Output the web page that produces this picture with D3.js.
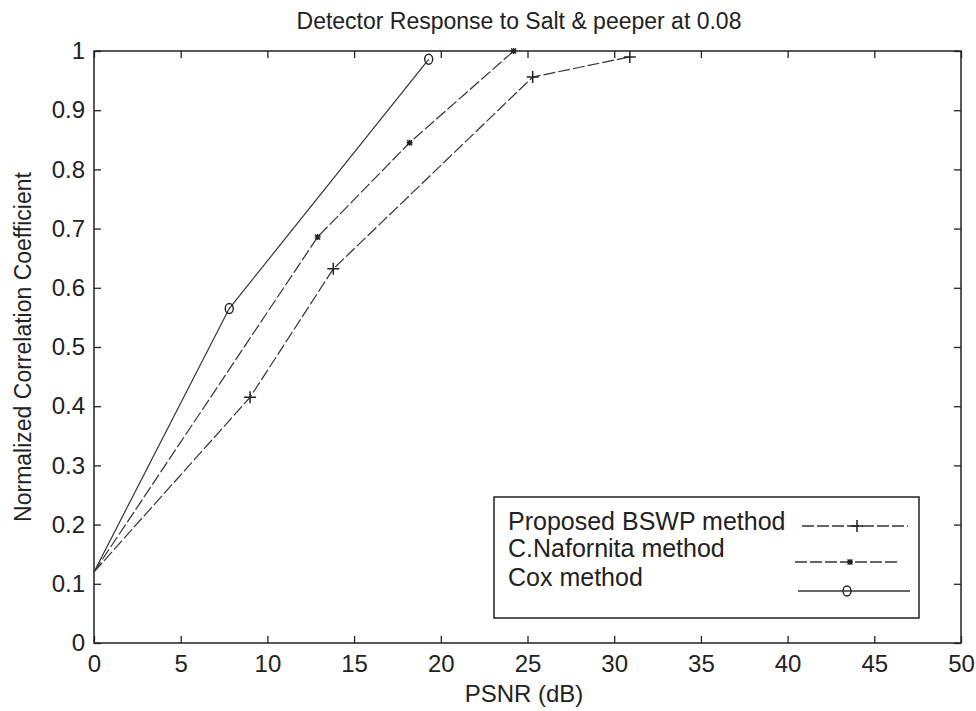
<!DOCTYPE html>
<html>
<head>
<meta charset="utf-8">
<script src="https://cdn.jsdelivr.net/npm/d3@7"></script>
<style>
  body { margin: 0; background: #fff; }
  text { font-family: "Liberation Sans", Arial, sans-serif; fill: #222; }
</style>
</head>
<body>
<div id="chart"></div>
<script>
// series: [PSNR, correlation]
let bswp = [[0, 0.12], [9, 0.415], [13.8, 0.632], [25.3, 0.956], [30.9, 0.99]];
let nafornita = [[0, 0.12], [12.9, 0.686], [18.2, 0.845], [24.2, 1.0]];
let cox = [[0, 0.12], [7.8, 0.565], [19.3, 0.986]];

let xTicks = [0, 5, 10, 15, 20, 25, 30, 35, 40, 45, 50];
let yTicks = [0, 0.1, 0.2, 0.3, 0.4, 0.5, 0.6, 0.7, 0.8, 0.9, 1];
let legendNames = ["Proposed BSWP method", "C.Nafornita method", "Cox method"];

let W = 976, H = 711;
let margin = {left: 94, right: 15, top: 51, bottom: 68};

let svg = d3.select("#chart").append("svg")
    .attr("width", W)
    .attr("height", H);

let x = d3.scaleLinear().domain([0, 50]).range([margin.left, W - margin.right]);
let y = d3.scaleLinear().domain([0, 1]).range([H - margin.bottom, margin.top]);

// box
svg.append("rect")
    .attr("x", x(0)).attr("y", y(1))
    .attr("width", x(50) - x(0)).attr("height", y(0) - y(1))
    .attr("fill", "none").attr("stroke", "#222").attr("stroke-width", 1.5);

// inward ticks on all four sides
let tk = 7;
svg.append("g").attr("transform", "translate(0," + y(0) + ")")
    .call(d3.axisBottom(x).tickValues(xTicks).tickSize(-tk).tickPadding(12).tickFormat(d3.format("d")));
svg.append("g").attr("transform", "translate(0," + y(1) + ")")
    .call(d3.axisTop(x).tickValues(xTicks).tickSize(-tk).tickFormat(""));
svg.append("g").attr("transform", "translate(" + x(0) + ",0)")
    .call(d3.axisLeft(y).tickValues(yTicks).tickSize(-tk).tickPadding(9)
        .tickFormat(d => d === 0 || d === 1 ? d3.format("d")(d) : d3.format(".1f")(d)));
svg.append("g").attr("transform", "translate(" + x(50) + ",0)")
    .call(d3.axisRight(y).tickValues(yTicks).tickSize(-tk).tickFormat(""));

svg.selectAll(".domain").remove();
svg.selectAll(".tick line").attr("stroke", "#222").attr("stroke-width", 1.3);
svg.selectAll(".tick text").attr("font-size", 24).attr("fill", "#222")
    .attr("font-family", "Liberation Sans, Arial, sans-serif");

// lines
let line = d3.line().x(d => x(d[0])).y(d => y(d[1]));

let series = [
    {data: bswp, dash: "12,3", mark: "plus"},
    {data: nafornita, dash: "12,3", mark: "star"},
    {data: cox, dash: null, mark: "circle"}
];

function drawMark(g, type, cx, cy) {
    if (type === "plus") {
        g.append("path").attr("d", `M${cx - 6},${cy}H${cx + 6}M${cx},${cy - 6}V${cy + 6}`)
            .attr("stroke", "#222").attr("stroke-width", 1.5);
    } else if (type === "star") {
        g.append("path").attr("d", `M${cx - 3},${cy}H${cx + 3}M${cx},${cy - 3}V${cy + 3}M${cx - 2.5},${cy - 2.5}L${cx + 2.5},${cy + 2.5}M${cx - 2.5},${cy + 2.5}L${cx + 2.5},${cy - 2.5}`)
            .attr("stroke", "#222").attr("stroke-width", 1.4);
    } else {
        g.append("ellipse").attr("cx", cx).attr("cy", cy).attr("rx", 4).attr("ry", 5)
            .attr("fill", "none").attr("stroke", "#222").attr("stroke-width", 1.4);
    }
}

let plot = svg.append("g");
series.forEach(function (s) {
    plot.append("path")
        .attr("d", line(s.data))
        .attr("fill", "none")
        .attr("stroke", "#333")
        .attr("stroke-width", 1.2)
        .attr("stroke-dasharray", s.dash);
    s.data.slice(1).forEach(function (d) {
        drawMark(plot, s.mark, x(d[0]), y(d[1]));
    });
});

// title and axis labels
svg.append("text")
    .attr("x", 519).attr("y", 29)
    .attr("text-anchor", "middle").attr("font-size", 23)
    .text("Detector Response to Salt & peeper at 0.08");

svg.append("text")
    .attr("x", 524).attr("y", 702)
    .attr("text-anchor", "middle").attr("font-size", 24)
    .text("PSNR (dB)");

svg.append("text")
    .attr("transform", "translate(31," + (y(0) + y(1)) / 2 + ") rotate(-90)")
    .attr("text-anchor", "middle").attr("font-size", 23)
    .text("Normalized Correlation Coefficient");

// legend
let lg = svg.append("g");
lg.append("rect")
    .attr("x", 494).attr("y", 497).attr("width", 425).attr("height", 121)
    .attr("fill", "#fff").attr("stroke", "#222").attr("stroke-width", 1.5);

let lgText = [530, 557, 586];
let lgLine = [[802, 908, 857, 526], [795, 900, 850, 562], [798, 910, 847, 591]];
legendNames.forEach(function (name, i) {
    lg.append("text").attr("x", 508).attr("y", lgText[i])
        .attr("font-size", 25).text(name);
    let L = lgLine[i];
    lg.append("line").attr("x1", L[0]).attr("x2", L[1]).attr("y1", L[3]).attr("y2", L[3])
        .attr("stroke", "#333").attr("stroke-width", 1.3)
        .attr("stroke-dasharray", series[i].dash);
    drawMark(lg, series[i].mark, L[2], L[3]);
});
</script>
</body>
</html>
